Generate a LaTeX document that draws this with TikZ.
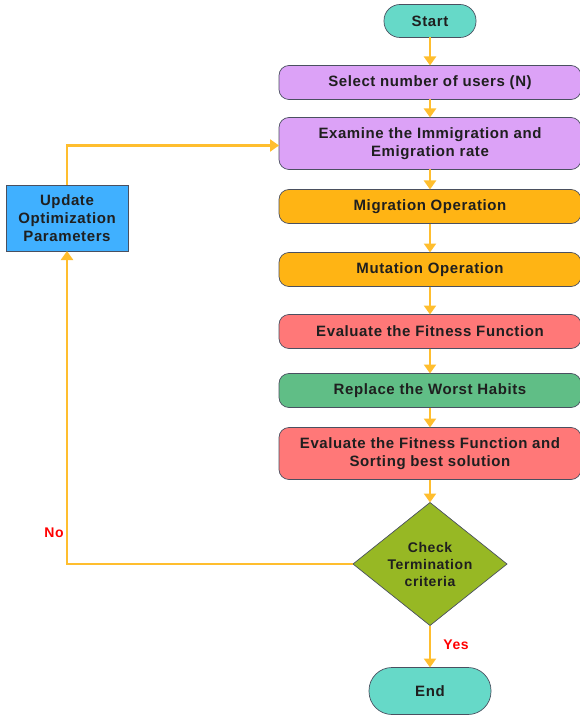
\documentclass[tikz,border=0pt]{standalone}
\usepackage{fontspec}
\setmainfont{Liberation Sans}[LetterSpace=4]
\usetikzlibrary{arrows.meta,positioning,shapes.geometric}

\definecolor{terminalcol}{HTML}{66D9C8}
\definecolor{purplecol}{HTML}{DCA2F7}
\definecolor{orangecol}{HTML}{FFB414}
\definecolor{salmoncol}{HTML}{FF7878}
\definecolor{greencol}{HTML}{60BE86}
\definecolor{olivecol}{HTML}{97B824}
\definecolor{bluecol}{HTML}{40B0FF}
\definecolor{linecol}{HTML}{FFBE2E}
\definecolor{bordercol}{HTML}{4A5060}

\begin{document}
\begin{tikzpicture}[
    x=1pt, y=1pt,
    auto,
    font=\fontsize{15}{18}\selectfont\bfseries,
    text=black!88,
    flow line/.style={draw=linecol,line width=2.8pt,-{Triangle[width=12pt,length=9pt]}},
    terminal node/.style={rounded corners=16pt,draw=bordercol,line width=0.7pt,outer sep=0pt,fill=terminalcol,align=center},
    process node/.style={rounded corners=10pt,draw=bordercol,line width=0.7pt,outer sep=0pt,minimum width=302pt,minimum height=34pt,align=center},
    decision node/.style={diamond,aspect=1.25,draw=bordercol,line width=0.7pt,outer sep=0pt,fill=olivecol,minimum width=154pt,minimum height=123pt,inner sep=0pt,align=center,font=\fontsize{14}{17}\selectfont\bfseries},
    update node/.style={rectangle,draw=bordercol,line width=0.7pt,outer sep=0pt,fill=bluecol,minimum width=122pt,minimum height=66pt,align=center},
    answer/.style={text=red,fill=white,inner sep=2pt,font=\fontsize{14}{16}\selectfont\bfseries}]

  \useasboundingbox (0,0) rectangle (580,-719);

  \node[terminal node,minimum width=92pt,minimum height=33pt] (Start) at (430,-21) {Start};
  \node[process node,fill=purplecol] (SelectUsers) [below=28pt of Start] {Select number of users (N)};
  \node[process node,fill=purplecol,minimum height=52pt] (ExamineRate) [below=18pt of SelectUsers] {Examine the Immigration and\\Emigration rate};
  \node[process node,fill=orangecol] (Migration) [below=20pt of ExamineRate] {Migration Operation};
  \node[process node,fill=orangecol] (Mutation) [below=29pt of Migration] {Mutation Operation};
  \node[process node,fill=salmoncol] (Fitness) [below=28pt of Mutation] {Evaluate the Fitness Function};
  \node[process node,fill=greencol] (Replace) [below=25pt of Fitness] {Replace the Worst Habits};
  \node[process node,fill=salmoncol,minimum height=52pt] (FitnessSort) [below=20pt of Replace] {Evaluate the Fitness Function and\\Sorting best solution};
  \node[decision node] (Check) [below=23pt of FitnessSort] {Check\\Termination\\criteria};
  \node[terminal node,rounded corners=23pt,minimum width=122pt,minimum height=47pt] (End) [below=42pt of Check] {End};

  \node[update node] (Update) at (67,-218) {Update\\Optimization\\Parameters};

  \foreach \from/\to in {Start/SelectUsers,SelectUsers/ExamineRate,ExamineRate/Migration,Migration/Mutation,
                         Mutation/Fitness,Fitness/Replace,Replace/FitnessSort,FitnessSort/Check}
    \draw[flow line] (\from.south) -- (\to.north);

  \draw[flow line] (Check.south) -- node[answer,right=10pt,pos=0.45] {Yes} (End.north);
  \draw[flow line] (Check.west) -| node[answer,pos=0.55] {No} (Update.south);
  \draw[flow line] (Update.north) |- ([yshift=-2pt]ExamineRate.west);

\end{tikzpicture}
\end{document}
